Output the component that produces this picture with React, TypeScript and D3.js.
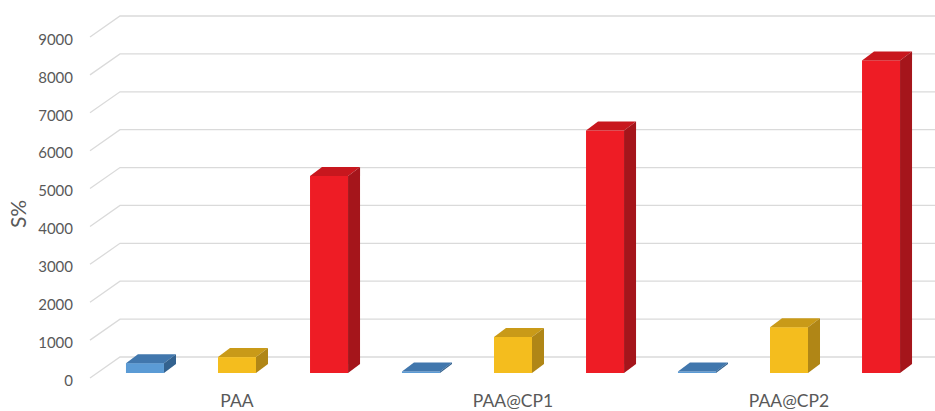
import React from 'react'
import * as d3 from 'd3'

const categories = ['PAA', 'PAA@CP1', 'PAA@CP2']
const seriesNames = ['s1', 's2', 's3']
const blueValues = [260, 40, 40]
const yellowValues = [420, 950, 1210]
const redValues = [5200, 6400, 8250]
const yTicks = [0, 1000, 2000, 3000, 4000, 5000, 6000, 7000, 8000, 9000]

const seriesValues = [blueValues, yellowValues, redValues]
const colors = [
  {front: '#5b9bd5', top: '#4177ad', side: '#33628f'},
  {front: '#f4bd1e', top: '#c99a18', side: '#b08616'},
  {front: '#ee1c25', top: '#c8171e', side: '#a5151b'},
]

const width = 935
const height = 411
// depth of floor (wall -> front edge) and of each bar
const floor = {dx: -30, dy: 21}
const barDepth = {dx: 12, dy: -9}
const frontShift = 16

const App = () => {
  const y = d3.scaleLinear().domain([0, 9000]).range([357, 16])
  const x0 = d3.scaleBand().domain(categories).range([99, 927])
  const x1 = d3.scaleBand().domain(seriesNames).range([0, x0.bandwidth()])
    .paddingInner(0.587).paddingOuter(0.293)
  const wallX = 120
  const font = 'Lato, "Open Sans", sans-serif'

  return (
    <svg width={width} height={height} style={{position: 'absolute', left: 0, top: 0, background: '#fff'}}>
      {yTicks.map(t => (
        <g key={t}>
          <polyline
            points={`${wallX + floor.dx},${y(t) + floor.dy} ${wallX},${y(t)} ${width},${y(t)}`}
            fill="none" stroke="#dadada" strokeWidth={1.3} />
          <text x={73} y={y(t) + 25} textAnchor="end" dominantBaseline="middle"
            fontFamily={font} fontSize={15} fill="#595959">{t}</text>
        </g>
      ))}
      <text transform="translate(21,214) rotate(-90)" textAnchor="middle" dominantBaseline="middle"
        fontFamily={font} fontSize={21} fill="#595959">S%</text>

      {categories.map((c, ci) => (
        <g key={c}>
          {seriesNames.map((s, si) => {
            const v = seriesValues[si][ci]
            const bx = x0(c)! + x1(s)!
            const bw = x1.bandwidth()
            const yt = y(v) + frontShift
            const yb = y(0) + frontShift
            const {dx, dy} = barDepth
            const col = colors[si]
            return (
              <g key={s}>
                <rect x={bx} y={yt} width={bw} height={Math.max(yb - yt, 0.5)} fill={col.front} />
                <polygon points={`${bx},${yt} ${bx + dx},${yt + dy} ${bx + bw + dx},${yt + dy} ${bx + bw},${yt}`}
                  fill={col.top} />
                <polygon points={`${bx + bw},${yt} ${bx + bw + dx},${yt + dy} ${bx + bw + dx},${yb + dy} ${bx + bw},${yb}`}
                  fill={col.side} />
              </g>
            )
          })}
          <text x={x0(c)! + x0.bandwidth() / 2} y={403} textAnchor="middle" dominantBaseline="middle"
            fontFamily={font} fontSize={17.5} fill="#595959">{c}</text>
        </g>
      ))}
    </svg>
  )
}

export default App
